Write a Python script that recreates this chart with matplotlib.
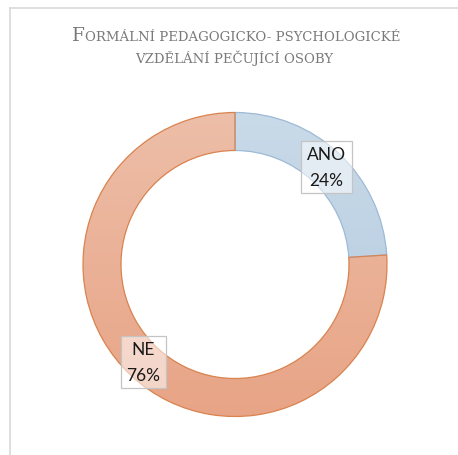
import numpy as np
import matplotlib
matplotlib.use('Agg')
import matplotlib.pyplot as plt
from matplotlib.lines import Line2D
from matplotlib.colors import LinearSegmentedColormap

labels = ['ANO', 'NE']
shares = [24, 76]
title_big = 'F'
title_rest = 'ORMÁLNÍ PEDAGOGICKO- PSYCHOLOGICKÉ'
title_line2 = 'VZDĚLÁNÍ PEČUJÍCÍ OSOBY'

W, H = 458, 456
fig = plt.figure(figsize=(W / 100, H / 100), dpi=100)
fig.patch.set_facecolor('white')

# thin frame (top + left edge visible)
fig.add_artist(Line2D([9.5 / W, 9.5 / W], [0, 1 - 8.5 / H], transform=fig.transFigure,
                      color='#d9d9d9', lw=1.2))
fig.add_artist(Line2D([9.5 / W, 1], [1 - 8.5 / H, 1 - 8.5 / H], transform=fig.transFigure,
                      color='#d9d9d9', lw=1.2))

# donut axes, centre (235, 265) px from top, radius 152 px
cx, cy, r = 235, 265.5, 152
ax = fig.add_axes([(cx - r) / W, (H - cy - r) / H, 2 * r / W, 2 * r / H])
wedges, _ = ax.pie(shares, startangle=90, counterclock=False, radius=1,
                   wedgeprops=dict(width=0.25, linewidth=0.9))
ax.set_xlim(-1, 1)
ax.set_ylim(-1, 1)
ax.axis('off')

edge_cols = ['#9dbad6', '#d9834f']
grads = [('#c9dae8', '#b3cae0'), ('#edbea8', '#e8a486')]
for w, ec, (top, bot) in zip(wedges, edge_cols, grads):
    w.set_edgecolor(ec)
    w.set_facecolor('none')
    cmap = LinearSegmentedColormap.from_list('g', [bot, top])
    g = np.linspace(0, 1, 256).reshape(-1, 1)
    im = ax.imshow(g, cmap=cmap, extent=[-1, 1, -1, 1], origin='lower',
                   aspect='auto', zorder=0.5)
    im.set_clip_path(w)
    w.set_zorder(1)

# data labels at mid angle of each wedge
for w, lab, val in zip(wedges, labels, shares):
    mid = np.deg2rad((w.theta1 + w.theta2) / 2)
    x, y = 0.88 * np.cos(mid), 0.88 * np.sin(mid)
    ax.text(x, y, '%s\n%d%%' % (lab, val), ha='center', va='center',
            family='Lato', fontsize=12.5, color='#1a1a1a', linespacing=1.7,
            zorder=3,
            bbox=dict(boxstyle='square,pad=0.33', facecolor=(1, 1, 1, 0.55),
                      edgecolor='#c4c4c4', linewidth=0.9))

# small-caps title
tcol = '#7a7a7a'
y1 = 1 - 40.7 / H
y2 = 1 - 63.3 / H
sc_size = 9.5
t_big = fig.text(0, y1, title_big, family='DejaVu Serif', fontsize=13.3,
                 color=tcol, ha='left', va='baseline')
t_rest = fig.text(0, y1, title_rest, family='DejaVu Serif', fontsize=sc_size,
                  color=tcol, ha='left', va='baseline')
fig.canvas.draw()
rend = fig.canvas.get_renderer()
wb = t_big.get_window_extent(rend).width
wr = t_rest.get_window_extent(rend).width
x0 = 236 - (wb + wr) / 2
t_big.set_x(x0 / W)
t_rest.set_x((x0 + wb) / W)
fig.text(234 / W, y2, title_line2, family='DejaVu Serif', fontsize=sc_size,
         color=tcol, ha='center', va='baseline')

fig.savefig('out.png', dpi=100)
